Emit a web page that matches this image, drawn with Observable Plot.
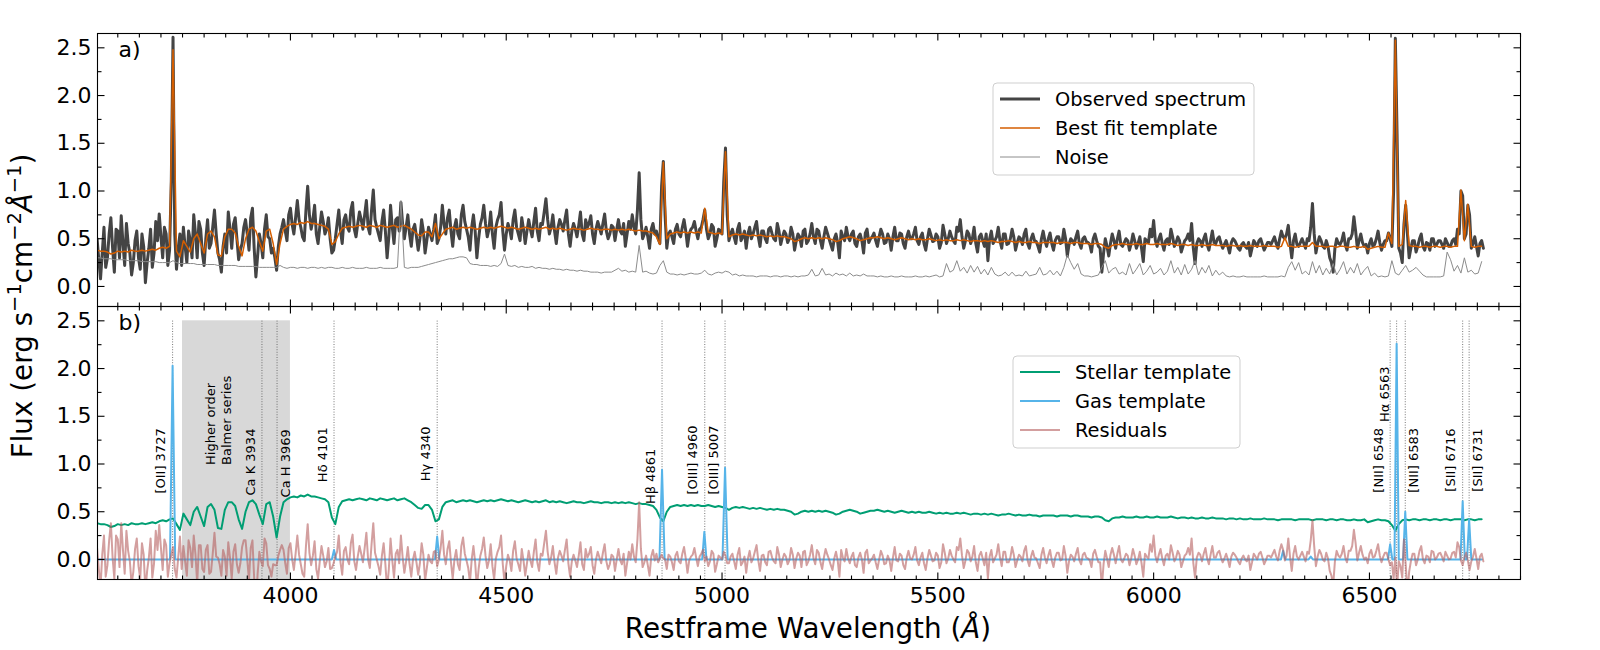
<!DOCTYPE html>
<html>
<head>
<meta charset="utf-8">
<script src="https://cdn.jsdelivr.net/npm/d3@7"></script>
<script src="https://cdn.jsdelivr.net/npm/@observablehq/plot@0.6"></script>
<style>
  body { margin: 0; background: #ffffff; }
  #chart { width: 1600px; height: 650px; }
</style>
</head>
<body>
<div id="chart"></div>
<script>
// ---------------- DATA ----------------
// spectrum sampling: first wavelength and step (Angstrom)
const waveStart = 3552;
const waveStep = 8;

const observed = [
  .50,.08,.62,.30,.72,.15,.58,.74,.22,.45,.12,.48,.30,.55,.04,.40,.20,.68,.76,.30,.55,.38,2.61,.18,.55,
  .62,.25,.48,.75,.30,.60,.22,.70,.45,.80,.35,.15,.55,.78,.40,.72,.28,.45,.70,.38,.82,.10,.55,.30,.75,
  .50,.40,.17,.55,.70,.48,.82,.55,.90,.62,.48,1.05,.60,.85,.45,.78,.55,.72,.35,.50,.80,.45,.75,.58,.88,
  .52,.78,.60,.90,.55,1.01,.62,.48,.80,.30,.85,.45,.72,.88,.50,.75,.42,.65,.38,.70,.35,.62,.48,.75,.50,
  .85,.55,.80,.42,.70,.50,.85,.60,.38,.75,.30,.65,.85,.52,.78,.40,.70,.88,.38,.66,.50,.80,.55,.72,.45,
  .70,.52,.82,.48,.65,.92,.55,.75,.45,.70,.58,.80,.42,.66,.52,.78,.48,.62,.74,.45,.68,.55,.76,.50,.64,
  .48,.70,.55,.42,.68,.75,.55,1.19,.50,.62,.40,.66,.58,.45,1.31,.40,.58,.45,.65,.52,.70,.42,.60,.68,.50,
  .62,.80,.50,.65,.42,.60,.55,1.45,.48,.60,.45,.66,.52,.40,.62,.55,.68,.42,.58,.46,.62,.50,.66,.44,.58,
  .46,.62,.38,.55,.42,.60,.48,.66,.45,.58,.40,.62,.50,.38,.55,.30,.52,.62,.48,.58,.42,.55,.35,.60,.50,
  .56,.42,.60,.45,.55,.38,.62,.48,.55,.40,.58,.50,.62,.44,.56,.38,.60,.47,.55,.40,.64,.45,.58,.48,.62,
  .70,.40,.58,.45,.62,.36,.55,.42,.27,.58,.48,.62,.40,.55,.45,.60,.38,.52,.44,.60,.40,.55,.47,.36,.58,
  .42,.56,.38,.52,.45,.60,.32,.50,.44,.58,.40,.52,.46,.36,.55,.42,.15,.50,.32,.55,.40,.58,.42,.50,.38,
  .55,.40,.52,.26,.48,.60,.69,.42,.55,.38,.50,.60,.42,.52,.36,.48,.55,.66,.24,.50,.42,.55,.38,.58,.45,
  .52,.40,.48,.35,.50,.44,.38,.46,.40,.32,.48,.42,.50,.38,.46,.44,.52,.40,.58,.50,.64,.30,.55,.42,.50,
  .40,.48,.87,.35,.52,.42,.48,.30,.15,.50,.44,.56,.38,.50,.73,.40,.55,.42,.35,.50,.44,.58,.38,.48,.56,
  .42,2.60,.40,.25,.85,.30,.48,.36,.50,.42,.46,.38,.50,.44,.48,.40,.46,.42,.50,.60,1.00,.50,.85,.40,.52,
  .32,.48
];
// observed flux half a step (4 A) after each sample above
const observedMid = [
  .28,.35,.20,.55,.40,.60,.30,.45,.66,.35,.25,.58,.18,.42,.25,.60,.35,.48,.52,.62,.22,1.10,.55,.40,.22,
  .42,.58,.30,.55,.68,.35,.50,.40,.62,.55,.28,.42,.35,.60,.65,.50,.38,.62,.55,.72,.40,.32,.45,.60,.52,
  .35,.30,.42,.62,.58,.75,.65,.72,.70,.52,.80,.75,.70,.55,.62,.68,.60,.50,.38,.65,.58,.70,.62,.80,.60,
  .66,.70,.75,.62,.80,.70,.55,.68,.58,.52,.62,.70,.58,.65,.62,.55,.60,.52,.50,.58,.48,.55,.60,.45,.62,
  .65,.72,.58,.62,.55,.75,.68,.52,.62,.58,.50,.72,.66,.60,.55,.62,.75,.58,.55,.60,.70,.62,.48,.60,.58,
  .60,.68,.58,.66,.78,.70,.62,.58,.62,.65,.70,.55,.58,.60,.64,.55,.70,.66,.55,.60,.62,.66,.58,.55,.62,
  .60,.58,.66,.55,.60,.62,.80,.70,.55,.52,.60,.55,.50,1.05,.75,.55,.52,.60,.55,.62,.58,.55,.62,.58,.60,
  .70,.60,.55,.62,.50,.58,1.10,.75,.55,.52,.60,.48,.58,.55,.50,.62,.52,.58,.50,.60,.55,.48,.58,.52,.55,
  .50,.55,.48,.52,.58,.45,.55,.52,.60,.48,.52,.56,.44,.50,.46,.58,.48,.52,.55,.45,.52,.48,.56,.46,.52,
  .48,.52,.55,.46,.50,.52,.48,.56,.45,.52,.50,.55,.48,.52,.45,.50,.54,.48,.52,.46,.55,.50,.52,.45,.58,
  .52,.48,.55,.50,.45,.52,.48,.55,.50,.45,.52,.48,.55,.44,.50,.52,.46,.50,.55,.45,.50,.48,.42,.50,.48,
  .50,.45,.48,.52,.46,.50,.44,.48,.52,.45,.50,.47,.44,.50,.48,.40,.35,.42,.45,.48,.50,.44,.46,.48,.45,
  .48,.45,.40,.50,.46,.52,.48,.50,.45,.48,.44,.52,.46,.48,.42,.50,.48,.40,.45,.48,.50,.44,.48,.46,.50,
  .45,.44,.42,.46,.48,.40,.44,.42,.46,.40,.45,.48,.44,.42,.46,.48,.45,.50,.52,.55,.45,.48,.44,.46,.45,
  .50,.62,.55,.45,.48,.40,.42,.25,.40,.45,.48,.44,.50,.55,.58,.48,.46,.44,.45,.42,.50,.46,.44,.48,.50,
  1.00,1.60,.35,.65,.55,.40,.48,.42,.55,.38,.45,.50,.42,.48,.44,.50,.42,.48,.44,.55,.95,.55,.75,.45,.42,
  .45,.40
];

const bestFit = [
  .38,.37,.37,.36,.34,.35,.37,.36,.37,.36,.38,.37,.37,.38,.37,.38,.39,.38,.40,.41,.40,.42,2.48,.37,.31,
  .48,.42,.36,.50,.55,.45,.35,.55,.58,.52,.33,.32,.52,.60,.60,.56,.42,.32,.50,.60,.62,.58,.47,.37,.58,
  .60,.45,.23,.45,.60,.63,.65,.66,.65,.67,.66,.68,.66,.66,.65,.64,.63,.60,.44,.47,.55,.61,.62,.63,.62,
  .63,.64,.63,.62,.64,.63,.62,.64,.63,.62,.63,.64,.62,.63,.64,.62,.60,.57,.54,.53,.57,.57,.52,.66,.50,
  .55,.60,.61,.62,.60,.61,.62,.61,.62,.61,.60,.61,.62,.61,.62,.61,.62,.63,.62,.61,.62,.61,.60,.61,.62,
  .61,.60,.61,.60,.61,.62,.60,.61,.60,.61,.60,.59,.60,.61,.60,.60,.59,.60,.61,.60,.60,.59,.60,.60,.59,
  .60,.59,.60,.59,.60,.59,.58,.59,.58,.58,.57,.56,.52,.44,1.30,.50,.55,.56,.57,.56,.57,.56,.57,.56,.57,
  .56,.82,.57,.56,.55,.56,.55,1.41,.52,.54,.55,.54,.55,.54,.53,.54,.53,.54,.53,.52,.53,.52,.53,.52,.52,
  .51,.50,.47,.48,.50,.51,.50,.51,.50,.51,.50,.51,.50,.49,.47,.48,.50,.51,.52,.51,.50,.48,.49,.50,.51,
  .51,.52,.51,.50,.51,.50,.49,.50,.51,.50,.49,.50,.49,.50,.49,.49,.50,.49,.48,.49,.48,.49,.48,.48,.49,
  .48,.49,.48,.47,.48,.48,.47,.48,.47,.48,.47,.46,.47,.47,.48,.47,.46,.47,.46,.46,.47,.46,.46,.45,.46,
  .46,.46,.46,.45,.46,.46,.46,.45,.46,.46,.45,.45,.45,.44,.45,.45,.44,.41,.40,.43,.44,.44,.45,.44,.44,
  .44,.45,.44,.44,.45,.44,.44,.45,.44,.44,.44,.45,.44,.43,.44,.44,.43,.44,.43,.43,.44,.43,.43,.44,.43,
  .43,.43,.42,.43,.43,.42,.43,.42,.42,.43,.42,.42,.42,.43,.42,.42,.42,.41,.42,.51,.42,.42,.41,.42,.42,
  .42,.42,.46,.42,.42,.42,.41,.42,.42,.41,.42,.42,.41,.41,.42,.41,.41,.42,.39,.40,.41,.42,.41,.41,.56,
  .45,2.58,.42,.44,.90,.43,.42,.42,.41,.42,.42,.41,.42,.42,.41,.42,.42,.41,.42,.42,1.01,.48,.86,.42,.41,
  .42,.42
];

const noise = [
  .30,.30,.29,.29,.29,.28,.28,.28,.28,.27,.27,.27,.27,.26,.26,.26,.26,.26,.25,.25,.25,.25,.27,.25,.24,
  .24,.24,.24,.24,.23,.23,.23,.23,.23,.23,.22,.22,.22,.22,.22,.22,.21,.21,.21,.21,.21,.21,.20,.20,.20,
  .20,.20,.20,.22,.20,.19,.20,.20,.19,.20,.20,.19,.20,.20,.19,.20,.19,.20,.20,.19,.19,.20,.19,.19,.20,
  .19,.19,.19,.20,.19,.19,.19,.20,.19,.19,.19,.19,.20,.90,.20,.19,.20,.20,.20,.21,.22,.23,.24,.25,.26,
  .27,.28,.29,.29,.30,.31,.31,.30,.24,.23,.23,.22,.22,.22,.21,.22,.21,.24,.34,.22,.21,.22,.20,.21,.20,
  .20,.21,.19,.20,.19,.19,.18,.19,.18,.18,.17,.18,.17,.17,.16,.17,.16,.16,.15,.15,.15,.14,.15,.15,.15,
  .17,.19,.16,.17,.15,.16,.15,.43,.15,.16,.14,.13,.14,.22,.27,.15,.13,.13,.12,.13,.12,.13,.14,.13,.13,
  .14,.17,.13,.12,.14,.15,.14,.16,.15,.12,.13,.11,.12,.11,.11,.11,.10,.11,.11,.11,.10,.11,.11,.10,.11,
  .11,.10,.11,.10,.11,.11,.12,.18,.11,.12,.19,.12,.13,.11,.14,.12,.13,.11,.14,.11,.12,.11,.13,.11,.11,
  .11,.10,.11,.10,.10,.11,.10,.10,.11,.10,.10,.10,.11,.10,.10,.11,.10,.11,.12,.10,.11,.24,.15,.17,.27,
  .16,.20,.14,.22,.15,.21,.13,.18,.12,.20,.13,.11,.12,.15,.11,.15,.11,.12,.11,.16,.11,.12,.13,.20,.12,
  .13,.17,.12,.16,.11,.20,.33,.25,.18,.24,.13,.11,.11,.10,.11,.12,.20,.27,.14,.18,.20,.13,.15,.12,.24,
  .13,.18,.24,.12,.16,.22,.13,.15,.19,.12,.16,.27,.14,.20,.12,.23,.13,.18,.27,.12,.20,.14,.22,.11,.17,
  .12,.15,.11,.10,.11,.10,.10,.11,.10,.10,.10,.10,.10,.11,.10,.10,.10,.10,.11,.10,.20,.26,.17,.25,.13,
  .16,.12,.26,.14,.22,.12,.19,.13,.24,.12,.18,.26,.13,.20,.14,.24,.12,.17,.21,.11,.14,.10,.11,.10,.11,
  .27,.14,.12,.17,.22,.15,.17,.20,.16,.12,.10,.10,.10,.10,.10,.11,.36,.28,.16,.22,.14,.30,.15,.17,.13,
  .14,.26
];

const stellar = [
  .38,.37,.37,.36,.34,.35,.37,.36,.37,.36,.38,.37,.37,.38,.37,.38,.39,.38,.40,.41,.40,.42,.43,.37,.31,
  .48,.42,.36,.50,.55,.45,.35,.55,.58,.52,.33,.32,.52,.60,.60,.56,.42,.32,.50,.60,.62,.58,.47,.37,.58,
  .60,.45,.23,.45,.60,.63,.65,.66,.65,.67,.66,.68,.66,.66,.65,.64,.63,.60,.44,.37,.55,.61,.62,.63,.62,
  .63,.64,.63,.62,.64,.63,.62,.64,.63,.62,.63,.64,.62,.63,.64,.62,.60,.57,.54,.53,.57,.57,.52,.40,.42,
  .55,.60,.61,.62,.60,.61,.62,.61,.62,.61,.60,.61,.62,.61,.62,.61,.62,.63,.62,.61,.62,.61,.60,.61,.62,
  .61,.60,.61,.60,.61,.62,.60,.61,.60,.61,.60,.59,.60,.61,.60,.60,.59,.60,.61,.60,.60,.59,.60,.60,.59,
  .60,.59,.60,.59,.60,.59,.58,.59,.58,.58,.57,.56,.52,.44,.40,.50,.55,.56,.57,.56,.57,.56,.57,.56,.57,
  .56,.56,.57,.56,.55,.56,.55,.54,.52,.54,.55,.54,.55,.54,.53,.54,.53,.54,.53,.52,.53,.52,.53,.52,.52,
  .51,.50,.47,.48,.50,.51,.50,.51,.50,.51,.50,.51,.50,.49,.47,.48,.50,.51,.52,.51,.50,.48,.49,.50,.51,
  .51,.52,.51,.50,.51,.50,.49,.50,.51,.50,.49,.50,.49,.50,.49,.49,.50,.49,.48,.49,.48,.49,.48,.48,.49,
  .48,.49,.48,.47,.48,.48,.47,.48,.47,.48,.47,.46,.47,.47,.48,.47,.46,.47,.46,.46,.47,.46,.46,.45,.46,
  .46,.46,.46,.45,.46,.46,.46,.45,.46,.46,.45,.45,.45,.44,.45,.45,.44,.41,.40,.43,.44,.44,.45,.44,.44,
  .44,.45,.44,.44,.45,.44,.44,.45,.44,.44,.44,.45,.44,.43,.44,.44,.43,.44,.43,.43,.44,.43,.43,.44,.43,
  .43,.43,.42,.43,.43,.42,.43,.42,.42,.43,.42,.42,.42,.43,.42,.42,.42,.41,.42,.42,.42,.42,.41,.42,.42,
  .42,.42,.41,.42,.42,.42,.41,.42,.42,.41,.42,.42,.41,.41,.42,.41,.41,.42,.39,.40,.41,.42,.41,.41,.40,
  .36,.30,.37,.41,.42,.41,.42,.42,.41,.42,.42,.41,.42,.42,.41,.42,.42,.41,.42,.42,.42,.41,.42,.42,.41,
  .42,.42
];

const residuals = [
  .12,-.29,.25,-.06,.38,-.20,.21,.38,-.15,.09,-.26,.11,-.07,.17,-.33,.02,-.19,.30,.36,-.11,.15,-.04,.13,-.19,.24,
  .14,-.17,.12,.25,-.25,.15,-.13,.15,-.13,.28,.02,-.17,.03,.18,-.20,.16,-.14,.13,.20,-.22,.20,-.48,.08,-.07,.17,
  -.10,-.05,-.06,.10,.10,-.15,.17,-.11,.25,-.05,-.18,.37,-.06,.19,-.20,.14,-.08,.12,-.09,.03,.25,-.16,.13,-.05,.26,
  -.11,.14,-.03,.28,-.09,.38,.00,-.16,.17,-.32,.22,-.19,.10,.25,-.14,.13,-.18,.08,-.16,.17,-.22,.05,-.04,.09,.00,
  .30,-.05,.19,-.20,.10,-.11,.23,-.01,-.24,.14,-.30,.04,.23,-.09,.16,-.21,.08,.25,-.24,.05,-.12,.19,-.05,.11,-.17,
  .09,-.08,.21,-.12,.04,.30,-.05,.14,-.15,.09,-.02,.21,-.18,.05,-.08,.18,-.11,.02,.13,-.15,.08,-.04,.16,-.10,.05,
  -.12,.11,-.05,-.17,.08,.16,-.03,.60,-.08,.04,-.17,.10,.06,.01,.01,-.10,.03,-.11,.08,-.04,.13,-.14,.03,.12,-.07,
  .06,-.02,-.07,.09,-.13,.04,.00,.04,-.04,.06,-.10,.12,-.03,-.14,.09,.01,.15,-.12,.05,-.06,.09,-.02,.13,-.08,.06,
  -.05,.12,-.09,.07,-.08,.09,-.02,.15,-.05,.07,-.10,.11,.00,-.11,.08,-.18,.02,.11,-.04,.07,-.08,.07,-.14,.10,-.01,
  .05,-.10,.09,-.05,.04,-.12,.13,-.02,.04,-.10,.09,.00,.13,-.06,.07,-.11,.10,-.02,.07,-.09,.16,-.04,.10,.00,.13,
  .22,-.09,.10,-.02,.14,-.12,.08,-.06,-.20,.10,.01,.16,-.07,.08,-.03,.13,-.08,.05,-.02,.14,-.07,.09,.01,-.09,.12,
  -.04,.10,-.08,.07,-.01,.14,-.14,.05,-.02,.12,-.05,.07,.01,-.08,.10,-.03,-.29,.09,-.08,.12,-.04,.14,-.03,.06,-.06,
  .11,-.05,.08,-.18,.03,.16,.25,-.03,.11,-.06,.06,.15,-.02,.09,-.08,.04,.12,.22,-.19,.07,-.02,.12,-.05,.14,.02,
  .09,-.03,.06,-.08,.07,.02,-.05,.04,-.02,-.11,.06,.00,.08,-.05,.04,.02,.10,-.01,.16,-.01,.22,-.12,.14,.00,.08,
  -.02,.06,.41,-.07,.10,.00,.07,-.12,-.27,.09,.02,.14,-.03,.09,.31,-.01,.14,.00,-.04,.10,.03,.16,-.03,.07,.00,
  -.03,.02,-.02,-.19,-.05,-.13,.06,-.06,.09,.00,.04,-.03,.08,.02,.07,-.02,.04,.01,.08,.18,-.01,.02,-.01,-.02,.11,
  -.10,.06
];
// residuals half a step (4 A) after each sample above
const residualsMid = [
  -.10,.05,-.18,.20,.02,.25,-.08,.10,.30,-.02,-.13,.22,-.20,.05,-.12,.22,-.04,.10,.12,.21,-.18,.05,-.10,.02,-.10,
  -.02,.20,-.08,.05,.15,-.10,.10,-.15,.06,.03,-.05,.10,-.17,.02,.08,-.05,-.04,.20,.00,.12,-.20,-.15,-.02,.22,-.06,
  -.18,-.06,.04,.15,-.04,.12,.00,.06,.05,-.15,.14,.07,.04,-.10,-.02,.04,-.02,-.10,-.04,.08,-.03,.09,.00,.17,-.02,
  .03,.06,.12,.00,.16,.07,-.07,.04,-.05,-.10,-.01,.06,-.04,.02,-.02,-.05,.00,-.03,-.04,.05,-.09,-.02,.08,-.07,.12,
  .05,.11,-.03,.00,-.05,.14,.06,-.09,.00,-.03,-.10,.11,.04,-.01,-.07,.01,.13,-.05,-.07,-.01,.09,.01,-.12,-.01,-.04,
  -.01,.08,-.03,.06,.17,.08,.02,-.03,.02,.04,.10,-.04,-.02,-.01,.04,-.05,.11,.06,-.06,.00,.02,.07,-.02,-.05,.03,
  .00,-.01,.06,-.04,.00,.03,.21,.11,-.03,-.06,.03,-.01,-.03,.05,.00,.05,-.03,.04,-.02,.06,.01,-.01,.05,.02,.03,
  .10,.03,-.02,.06,-.05,.02,.08,-.04,.03,-.02,.05,-.06,.03,.01,-.03,.08,-.01,.04,-.03,.08,.02,-.04,.05,.00,.03,
  -.01,.05,.01,.04,.08,-.06,.05,.01,.10,-.03,.02,.05,-.06,.01,-.01,.10,-.02,.01,.03,-.06,.02,.00,.07,-.04,.01,
  -.03,.00,.04,-.04,-.01,.02,-.01,.06,-.06,.02,.01,.05,-.01,.02,-.04,.01,.04,-.01,.04,-.03,.07,.01,.04,-.03,.10,
  .04,-.01,.07,.03,-.03,.04,.01,.07,.03,-.03,.05,.02,.08,-.03,.02,.05,-.01,.03,.09,-.01,.03,.02,-.04,.05,.02,
  .04,-.01,.02,.07,.00,.04,-.02,.03,.06,-.01,.05,.02,-.01,.06,.03,-.03,-.05,.01,.05,.05,.06,.00,.01,.04,.01,
  .04,.00,-.04,.06,.01,.08,.04,.05,.01,.04,.00,.07,.02,.05,-.02,.06,.05,-.04,.02,.05,.06,.01,.05,.02,.07,
  .02,.01,.00,.03,.05,-.02,.01,.00,.04,-.03,.03,.06,.02,-.01,.04,.06,.03,.09,.10,.04,.03,.06,.03,.04,.03,
  .08,.20,.14,.03,.06,-.02,.01,-.17,-.02,.04,.06,.02,.09,.14,.17,.07,.05,.02,.06,.02,.09,.04,.03,.07,-.06,
  -.20,-.30,-.07,.21,-.35,-.02,.06,.00,.14,-.04,.03,.09,.00,.06,.03,.08,.00,.07,.02,.13,-.06,.07,-.11,.03,.01,
  .03,-.02
];

// gas template: (wavelength, flux) points
const gasWave = [3552,3721,3727,3733,4096,4101,4106,4335,4340,4345,4855,4861,4867,4954,4959,4964,5001,5007,5013,
  6295,6300,6305,6359,6364,6369,6543,6548,6553,6558,6563,6568,6578,6583,6588,6711,6716,6721,6726,6731,6736,6760];
const gasFlux = [0,0,2.03,0,0,0.10,0,0,0.24,0,0,0.94,0,0,0.29,0,0,0.96,0,
  0,0.09,0,0,0.03,0,0,0.16,0,0,2.26,0,0,0.50,0,0,0.61,0,0,0.42,0,0];

// spectral lines marked in panel b
const lineNames = ["[OII] 3727","Ca K 3934","Ca H 3969","Hδ 4101","Hγ 4340","Hβ 4861","[OIII] 4960","[OIII] 5007",
  "[NII] 6548","Hα 6563","[NII] 6583","[SII] 6716","[SII] 6731"];
const lineWaves = [3727,3934,3969,4101,4340,4861,4960,5007,6548,6563,6583,6716,6731];
const labelBase = [0.69,0.67,0.65,0.81,0.82,0.58,0.68,0.68,0.70,1.44,0.70,0.71,0.71];
const labelSide = ["left","left","right","left","left","left","left","left","left","left","right","left","right"];

const balmerBand = [3750, 4000];
const balmerTop = 2.5;
const balmerLabel = "Higher order\nBalmer series";
const balmerLabelAt = [3832, 0.99];

const panelTags = ["a)", "b)"];
const legendA = ["Observed spectrum", "Best fit template", "Noise"];
const legendB = ["Stellar template", "Gas template", "Residuals"];

const xMajor = [4000, 4500, 5000, 5500, 6000, 6500];
const xMinor = d3.range(3600, 6851, 50).filter(d => d % 500 !== 0);
const yMajor = [0, 0.5, 1, 1.5, 2, 2.5];
const yMinor = [0.25, 0.75, 1.25, 1.75, 2.25];

// ---------------- build tables ----------------
const wave = observed.map((_, i) => waveStart + waveStep * i);
const rows = (vals, panel) => vals.map((v, i) => ({w: wave[i], v, panel}));
const rowsFine = (vals, mids, panel) => vals.flatMap((v, i) => [
  {w: wave[i], v, panel}, {w: wave[i] + waveStep / 2, v: mids[i], panel}
]);
const obsRows = rowsFine(observed, observedMid, "a");
const fitRows = rows(bestFit, "a");
const noiseRows = rows(noise, "a");
const stellarRows = rows(stellar, "b");
const residRows = rowsFine(residuals, residualsMid, "b");
const gasRows = gasWave.map((w, i) => ({w, v: gasFlux[i], panel: "b"}));
const lineRows = lineNames.map((name, i) => ({name, wave: lineWaves[i], base: labelBase[i], side: labelSide[i], panel: "b"}));
const bandRows = [{x1: balmerBand[0], x2: balmerBand[1], y1: -1, y2: balmerTop, panel: "b"}];
const tagRows = [{tag: panelTags[0], panel: "a"}, {tag: panelTags[1], panel: "b"}];

const C = {
  obs: "#444444", fit: "#D55E00", noise: "#8c8c8c",
  stellar: "#009E73", gas: "#56B4E9", resid: "#b55f5f"
};

const tickShape = {draw(context, l) { context.moveTo(0, 0); context.lineTo(0, -l); }};
function tickMarks(values, dim, frameAnchor, rotate, length) {
  return Plot.vector(values, {
    [dim]: d => d, frameAnchor, rotate, length, anchor: "start", shape: tickShape,
    stroke: "black", strokeWidth: 1.1, strokeLinecap: "butt"
  });
}

const chart = Plot.plot({
  width: 1600,
  height: 650,
  marginTop: 33,
  marginBottom: 71,
  marginLeft: 97,
  marginRight: 80,
  style: {fontFamily: "DejaVu Sans", fontSize: "22px", color: "black", background: "white", overflow: "visible"},
  x: {domain: [3553, 6850]},
  y: {domain: [-0.21, 2.65]},
  fy: {domain: ["a", "b"], padding: 0, axis: null},
  marks: [
    // panel b background band and line markers
    Plot.rect(bandRows, {x1: "x1", x2: "x2", y1: "y1", y2: "y2", fy: "panel", fill: "#d8d8d8", clip: true}),
    Plot.ruleX(lineRows, {x: "wave", y1: -1, y2: balmerTop, fy: "panel", stroke: "#555", strokeWidth: 0.8, strokeDasharray: "1,1.6", clip: true}),
    // panel a
    Plot.line(obsRows, {x: "w", y: "v", fy: "panel", stroke: C.obs, strokeWidth: 3, strokeLinejoin: "round", clip: true}),
    Plot.line(fitRows, {x: "w", y: "v", fy: "panel", stroke: C.fit, strokeWidth: 1.5, clip: true}),
    Plot.line(noiseRows, {x: "w", y: "v", fy: "panel", stroke: C.noise, strokeWidth: 1, clip: true}),
    // panel b
    Plot.line(stellarRows, {x: "w", y: "v", fy: "panel", stroke: C.stellar, strokeWidth: 2, clip: true}),
    Plot.line(gasRows, {x: "w", y: "v", fy: "panel", stroke: C.gas, strokeWidth: 2, clip: true}),
    Plot.line(residRows, {x: "w", y: "v", fy: "panel", stroke: C.resid, strokeOpacity: 0.6, strokeWidth: 2, clip: true}),
    // line labels
    Plot.text(lineRows.filter(d => d.side === "left"), {x: "wave", y: "base", text: "name", fy: "panel", rotate: -90, textAnchor: "start", dx: -11.5, fontSize: 13, fill: "black"}),
    Plot.text(lineRows.filter(d => d.side === "right"), {x: "wave", y: "base", text: "name", fy: "panel", rotate: -90, textAnchor: "start", dx: 9, fontSize: 13, fill: "black"}),
    Plot.text([{t: balmerLabel, x: balmerLabelAt[0], y: balmerLabelAt[1], panel: "b"}], {x: "x", y: "y", text: "t", fy: "panel", rotate: -90, textAnchor: "start", fontSize: 13, lineHeight: 1.2, fill: "black"}),
    // panel tags
    Plot.text(tagRows, {text: "tag", fy: "panel", frameAnchor: "top-left", dx: 21, dy: 8, lineAnchor: "top", textAnchor: "start", fontSize: 22, fill: "black"}),
    // frame and inward ticks
    Plot.frame({stroke: "black", strokeWidth: 1.1}),
    tickMarks(xMajor, "x", "bottom", 0, 7),
    tickMarks(xMinor, "x", "bottom", 0, 4),
    tickMarks(xMajor, "x", "top", 180, 7),
    tickMarks(xMinor, "x", "top", 180, 4),
    tickMarks(yMajor, "y", "left", 90, 7),
    tickMarks(yMinor, "y", "left", 90, 4),
    tickMarks(yMajor, "y", "right", -90, 7),
    tickMarks(yMinor, "y", "right", -90, 4),
    Plot.axisX({anchor: "bottom", ticks: xMajor, tickSize: 0, tickPadding: 8, tickFormat: d3.format("d"), label: null, fontSize: 22}),
    Plot.axisY({anchor: "left", ticks: yMajor, tickSize: 0, tickPadding: 6, tickFormat: d3.format(".1f"), label: null, fontSize: 22})
  ]
});

document.getElementById("chart").appendChild(chart);

// ---------------- legends and axis titles ----------------
const svg = d3.select(chart);
function drawLegend(box, labels, styles) {
  const g = svg.append("g").attr("font-family", "DejaVu Sans").attr("font-size", 19.4).attr("text-anchor", "start");
  g.append("rect").attr("x", box.x).attr("y", box.y).attr("width", box.w).attr("height", box.h)
    .attr("rx", 4).attr("fill", "white").attr("fill-opacity", 0.8).attr("stroke", "#cfcfcf").attr("stroke-width", 1);
  labels.forEach((label, k) => {
    const cy = box.y + 16 + 29 * k;
    g.append("line").attr("x1", box.x + 7).attr("x2", box.x + 47).attr("y1", cy).attr("y2", cy)
      .attr("stroke", styles[k].stroke).attr("stroke-width", styles[k].width).attr("stroke-opacity", styles[k].opacity || 1);
    g.append("text").attr("x", box.x + 62).attr("y", cy).attr("dy", "0.35em").attr("text-anchor", "start")
      .attr("fill", "black").text(label);
  });
}
drawLegend({x: 993, y: 83, w: 261, h: 92}, legendA, [
  {stroke: C.obs, width: 3}, {stroke: C.fit, width: 1.5}, {stroke: C.noise, width: 1}
]);
drawLegend({x: 1013, y: 356, w: 227, h: 92}, legendB, [
  {stroke: C.stellar, width: 2}, {stroke: C.gas, width: 2}, {stroke: C.resid, width: 2, opacity: 0.6}
]);

const xl = svg.append("text").attr("x", 808).attr("y", 638).attr("text-anchor", "middle")
  .attr("font-family", "DejaVu Sans").attr("font-size", 27.8).attr("fill", "black");
xl.append("tspan").text("Restframe Wavelength (");
xl.append("tspan").attr("font-style", "italic").text("Å");
xl.append("tspan").text(")");

const yl = svg.append("text").attr("transform", "translate(32,306) rotate(-90)").attr("text-anchor", "middle")
  .attr("font-family", "DejaVu Sans").attr("font-size", 27.8).attr("fill", "black");
yl.append("tspan").text("Flux (erg s");
yl.append("tspan").attr("baseline-shift", "super").attr("font-size", "70%").text("−1");
yl.append("tspan").text("cm");
yl.append("tspan").attr("baseline-shift", "super").attr("font-size", "70%").text("−2");
yl.append("tspan").attr("font-style", "italic").text("Å");
yl.append("tspan").attr("baseline-shift", "super").attr("font-size", "70%").text("−1");
yl.append("tspan").text(")");
</script>
</body>
</html>
